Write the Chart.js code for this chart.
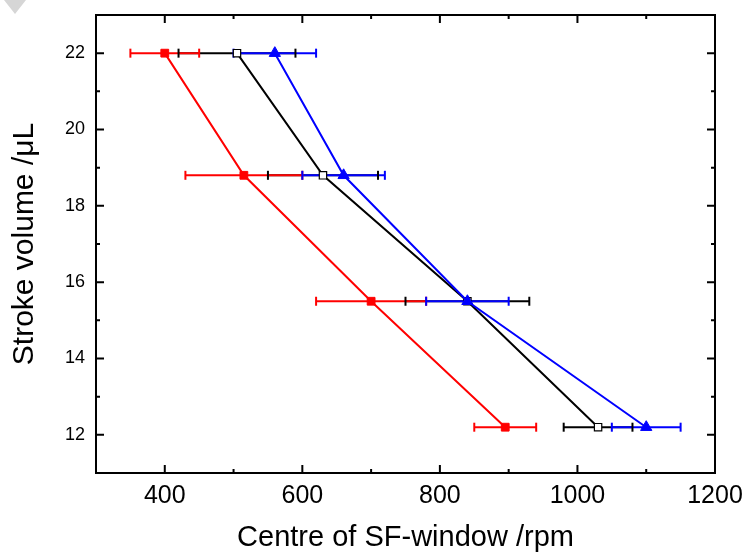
<!DOCTYPE html>
<html><head><meta charset="utf-8">
<script src="https://cdn.jsdelivr.net/npm/chart.js@4.4.1/dist/chart.umd.min.js"></script>
<style>html,body{margin:0;padding:0;background:#fff}canvas{display:block}</style>
</head><body>
<canvas id="c" width="746" height="552"></canvas>
<script>
// ---- data ----
const strokeVolume = [22, 18.8, 15.5, 12.2];
const redCentre   = [400, 515, 700, 895];
const redError    = [50, 85, 80, 45];
const blackCentre = [505, 630, 840, 1030];
const blackError  = [85, 80, 90, 50];
const blueCentre  = [560, 660, 840, 1100];
const blueError   = [60, 60, 60, 50];
const xTickValues = [400, 600, 800, 1000, 1200];
const xMinorTicks = [500, 700, 900, 1100];
const yTickValues = [12, 14, 16, 18, 20, 22];
const yMinorTicks = [13, 15, 17, 19, 21];

function pts(xs, ys) { return xs.map((x, i) => ({x: x, y: ys[i]})); }

const FONT = '"Liberation Sans", Arial, sans-serif';

const errorBarPlugin = {
  id: 'errorBars',
  beforeDatasetsDraw(chart) {
    const ctx = chart.ctx, xs = chart.scales.x, ys = chart.scales.y;
    const drawOrder = [2, 0, 1]; // black, red, blue
    ctx.save();
    ctx.lineWidth = 2;
    ctx.lineCap = 'butt';
    drawOrder.forEach(di => {
      const ds = chart.data.datasets[di];
      ctx.strokeStyle = ds.borderColor;
      ds.data.forEach((p, i) => {
        const e = ds.errors[i];
        const y = ys.getPixelForValue(p.y);
        ctx.beginPath();
        ctx.moveTo(xs.getPixelForValue(p.x - e), y);
        ctx.lineTo(xs.getPixelForValue(p.x + e), y);
        ctx.stroke();
      });
    });
    drawOrder.forEach(di => {
      const ds = chart.data.datasets[di];
      ctx.strokeStyle = ds.borderColor;
      ds.data.forEach((p, i) => {
        const e = ds.errors[i];
        const y = ys.getPixelForValue(p.y);
        [p.x - e, p.x + e].forEach(v => {
          const x = xs.getPixelForValue(v);
          ctx.beginPath();
          ctx.moveTo(x, y - 4.5);
          ctx.lineTo(x, y + 4.5);
          ctx.stroke();
        });
      });
    });
    ctx.restore();
  }
};

const framePlugin = {
  id: 'frame',
  beforeDraw(chart) {
    const ctx = chart.ctx;
    ctx.save();
    ctx.fillStyle = '#d6d6d6';
    ctx.beginPath();
    ctx.moveTo(4, 0); ctx.lineTo(26, 0); ctx.lineTo(15, 14); ctx.closePath();
    ctx.fill();
    ctx.restore();
  },
  afterDraw(chart) {
    const ctx = chart.ctx, a = chart.chartArea, xs = chart.scales.x, ys = chart.scales.y;
    ctx.save();
    ctx.strokeStyle = '#000';
    ctx.lineWidth = 2;
    ctx.strokeRect(a.left, a.top, a.right - a.left, a.bottom - a.top);
    const tickX = (vals, len) => vals.forEach(v => {
      const x = xs.getPixelForValue(v);
      ctx.beginPath();
      ctx.moveTo(x, a.bottom); ctx.lineTo(x, a.bottom - len);
      ctx.moveTo(x, a.top); ctx.lineTo(x, a.top + len);
      ctx.stroke();
    });
    const tickY = (vals, len) => vals.forEach(v => {
      const y = ys.getPixelForValue(v);
      ctx.beginPath();
      ctx.moveTo(a.left, y); ctx.lineTo(a.left + len, y);
      ctx.moveTo(a.right, y); ctx.lineTo(a.right - len, y);
      ctx.stroke();
    });
    tickX(xTickValues, 8); tickX(xMinorTicks, 4);
    tickY(yTickValues, 8); tickY(yMinorTicks, 4);
    ctx.restore();
  }
};

new Chart(document.getElementById('c'), {
  type: 'scatter',
  data: {
    datasets: [
      {
        label: 'red', data: pts(redCentre, strokeVolume), errors: redError,
        showLine: true, borderColor: '#ff0000', backgroundColor: '#ff0000',
        borderWidth: 2, pointStyle: 'rect', pointRadius: 5.5, pointBorderWidth: 1,
        pointBackgroundColor: '#ff0000', pointBorderColor: '#ff0000', order: 1
      },
      {
        label: 'blue', data: pts(blueCentre, strokeVolume), errors: blueError,
        showLine: true, borderColor: '#0000ff', backgroundColor: '#0000ff',
        borderWidth: 2, pointStyle: 'triangle', pointRadius: 6.5, pointBorderWidth: 1,
        pointBackgroundColor: '#0000ff', pointBorderColor: '#0000ff', order: 0
      },
      {
        label: 'black', data: pts(blackCentre, strokeVolume), errors: blackError,
        showLine: true, borderColor: '#000000', backgroundColor: '#ffffff',
        borderWidth: 2, pointStyle: 'rect', pointRadius: 5.2, pointBorderWidth: 1.2,
        pointBackgroundColor: '#ffffff', pointBorderColor: '#000000', order: 2
      }
    ]
  },
  plugins: [errorBarPlugin, framePlugin],
  options: {
    responsive: false,
    animation: false,
    devicePixelRatio: 1,
    layout: { padding: { top: 15, right: 31, left: 0, bottom: 0 } },
    plugins: { legend: { display: false }, tooltip: { enabled: false } },
    scales: {
      x: {
        type: 'linear', min: 300, max: 1200,
        grid: { display: false, drawTicks: false },
        border: { display: false },
        afterBuildTicks: s => { s.ticks = xTickValues.map(v => ({value: v})); },
        afterFit: s => { s.height = 79; s.paddingLeft = 0; s.paddingRight = 0; },
        ticks: { color: '#000', padding: 8, font: { family: FONT, size: 25 }, maxRotation: 0,
                 callback: v => String(v) },
        title: { display: true, text: 'Centre of SF-window /rpm', color: '#000',
                 font: { family: FONT, size: 29, lineHeight: 1 }, padding: 0 }
      },
      y: {
        type: 'linear', min: 11, max: 23,
        grid: { display: false, drawTicks: false },
        border: { display: false },
        afterBuildTicks: s => { s.ticks = yTickValues.map(v => ({value: v})); },
        afterFit: s => { s.width = 96; s.paddingTop = 0; s.paddingBottom = 0; },
        ticks: { color: '#000', padding: 11, font: { family: FONT, size: 18 },
                 callback: v => String(v) },
        title: { display: true, text: 'Stroke volume /μL', color: '#000',
                 font: { family: FONT, size: 30, lineHeight: 1.2 }, padding: { top: 7, bottom: 0 } }
      }
    }
  }
});
</script>
</body></html>
